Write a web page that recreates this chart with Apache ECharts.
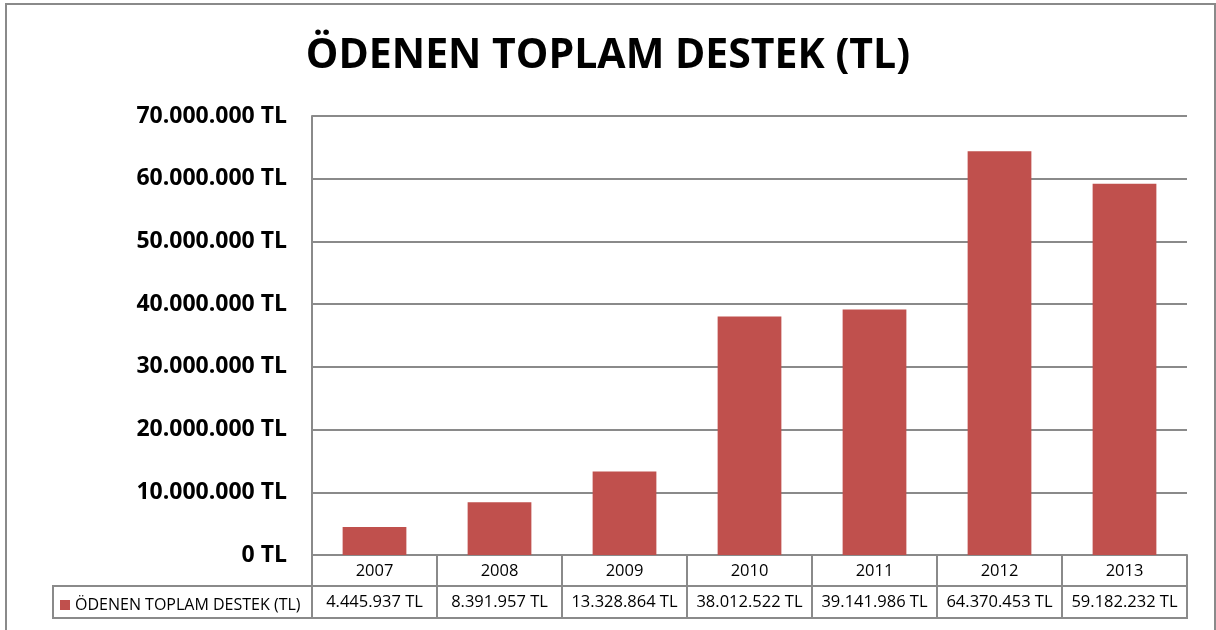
<!DOCTYPE html>
<html lang="tr">
<head>
  <meta charset="UTF-8">
  <title>ÖDENEN TOPLAM DESTEK (TL)</title>
  <style>
    html, body { margin: 0; padding: 0; background: #fff; }
    #main { width: 1216px; height: 630px; }
  </style>
  <script src="https://cdn.jsdelivr.net/npm/echarts@6/dist/echarts.min.js"></script>
</head>
<body>
  <div id="main"></div>
  <script>
    // veriler
    var years = ['2007', '2008', '2009', '2010', '2011', '2012', '2013'];
    var seriesName = 'ÖDENEN TOPLAM DESTEK (TL)';
    var values = [4445937, 8391957, 13328864, 38012522, 39141986, 64370453, 59182232];
    var yTicks = [0, 10000000, 20000000, 30000000, 40000000, 50000000, 60000000, 70000000];

    var font = 'Open Sans';
    var grey = '#8a8a8a';

    // 1234567 -> "1.234.567 TL"
    function fmt(v) {
      return String(v).replace(/\B(?=(\d{3})+(?!\d))/g, '.') + ' TL';
    }

    var myChart = echarts.init(document.getElementById('main'));
    var option = {
      animation: false,
      backgroundColor: '#fff',
      title: {
        text: seriesName,
        left: 'center',
        top: 31,
        textStyle: { fontFamily: font, fontSize: 41, fontWeight: 'bold', color: '#000' }
      },
      legend: {
        data: [seriesName],
        left: 55,
        top: 592,
        icon: 'rect',
        itemWidth: 10,
        itemHeight: 10,
        itemGap: 5,
        textStyle: { fontFamily: font, fontSize: 16, color: '#000' }
      },
      grid: { left: 312, right: 29, top: 116, bottom: 75, containLabel: false },
      xAxis: [
        {
          type: 'category',
          data: years,
          position: 'bottom',
          axisLine: { lineStyle: { color: grey, width: 2 } },
          axisTick: { show: true, length: 63, interval: 0, lineStyle: { color: grey, width: 2 } },
          axisLabel: { interval: 0, margin: 8, fontFamily: font, fontSize: 16.5, color: '#000' }
        },
        {
          type: 'category',
          data: years,
          position: 'bottom',
          offset: 31,
          axisLine: { show: true, lineStyle: { color: grey, width: 2 } },
          axisTick: { show: false },
          axisLabel: {
            interval: 0, hideOverlap: false,
            margin: 8, fontFamily: font, fontSize: 16.5, color: '#000',
            formatter: function (v, i) { return fmt(values[i]); }
          }
        }
      ],
      yAxis: {
        type: 'value',
        min: yTicks[0],
        max: yTicks[yTicks.length - 1],
        interval: yTicks[1] - yTicks[0],
        axisLine: { show: true, lineStyle: { color: grey, width: 2 } },
        axisTick: { show: false },
        splitLine: { lineStyle: { color: grey, width: 2 } },
        axisLabel: {
          margin: 25, fontFamily: font, fontSize: 23, fontWeight: 'bold', color: '#000',
          formatter: fmt
        }
      },
      series: [{
        name: seriesName,
        type: 'bar',
        xAxisIndex: 0,
        barWidth: '51%',
        itemStyle: { color: '#C0504D' },
        data: values
      }],
      graphic: [
        // tablo ikinci satırın çerçevesi
        {
          type: 'rect', silent: true,
          shape: { x: 53, y: 586, width: 1134, height: 32 },
          style: { fill: 'none', stroke: grey, lineWidth: 2 }
        },
        // grafik çerçevesi
        {
          type: 'rect', silent: true,
          shape: { x: 6, y: 4, width: 1209, height: 640 },
          style: { fill: 'none', stroke: grey, lineWidth: 2 }
        }
      ]
    };
    myChart.setOption(option);
  </script>
</body>
</html>
